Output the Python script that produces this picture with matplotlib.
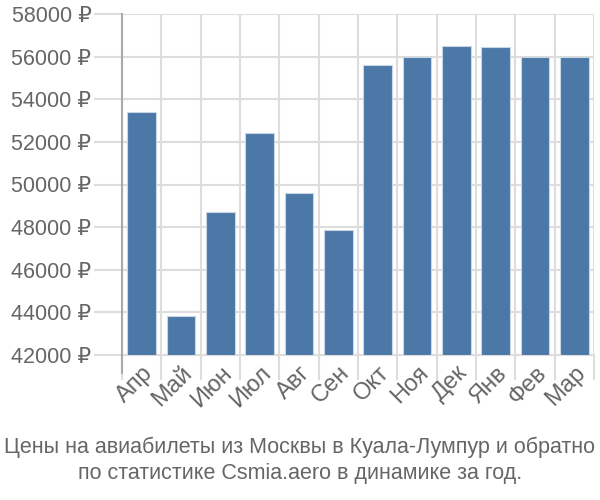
"""Monthly airfare bar chart: Moscow - Kuala Lumpur."""

import matplotlib

matplotlib.use("Agg")
import matplotlib.pyplot as plt
from matplotlib.ticker import FixedLocator

plt.rcParams["font.family"] = ["Liberation Sans", "DejaVu Sans"]

MONTHS = ["Апр", "Май", "Июн", "Июл", "Авг", "Сен", "Окт", "Ноя", "Дек", "Янв", "Фев", "Мар"]
PRICES = [53400, 43850, 48700, 52400, 49600, 47850, 55630, 56000, 56500, 56430, 56000, 56000]
Y_TICKS = list(range(42000, 58001, 2000))
CAPTION = "Цены на авиабилеты из Москвы в Куала-Лумпур и обратно\nпо статистике Csmia.aero в динамике за год."

TEXT_COLOR = "#666666"
GRID_COLOR = "#dddddd"
SPINE_COLOR = "#aaaaaa"


def main() -> None:
    fig = plt.figure(figsize=(6, 5), dpi=100)
    ax = fig.add_axes([122 / 600, 1 - 355 / 500, 472 / 600, 341 / 500])

    x = range(len(MONTHS))
    ax.bar(x, [p - 42000 for p in PRICES], bottom=42000, width=0.73,
           color="#4c78a8", edgecolor="#c8d6e6", linewidth=0.8, zorder=3)

    ax.set_xlim(-0.5, len(MONTHS) - 0.5)
    ax.set_ylim(42000, 58000)

    ax.set_yticks(Y_TICKS)
    ax.set_yticklabels([f"{v} ₽" for v in Y_TICKS])
    ax.set_xticks(list(x))
    ax.set_xticklabels(MONTHS, rotation=45, ha="right", va="top", rotation_mode="anchor")
    ax.xaxis.set_minor_locator(FixedLocator([i - 0.5 for i in range(len(MONTHS) + 1)]))

    ax.tick_params(axis="x", which="major", length=0, pad=5, labelsize=17, labelcolor=TEXT_COLOR)
    ax.tick_params(axis="x", which="minor", length=18, width=1.5, color=GRID_COLOR)
    ax.tick_params(axis="y", length=20, width=1.5, color=GRID_COLOR, pad=2,
                   labelsize=15.5, labelcolor=TEXT_COLOR)
    # the left spine continues through the first category tick
    ax.plot([-0.5, -0.5], [0, -18 / 341], transform=ax.get_xaxis_transform(),
            color=SPINE_COLOR, linewidth=1.5, clip_on=False, zorder=4)

    ax.grid(True, axis="y", color=GRID_COLOR, linewidth=1.5, zorder=0)
    ax.grid(True, axis="x", which="minor", color=GRID_COLOR, linewidth=1.5, zorder=0)

    for side in ("top", "right"):
        ax.spines[side].set_visible(False)
    ax.spines["left"].set_color(SPINE_COLOR)
    ax.spines["left"].set_linewidth(1.5)
    ax.spines["bottom"].set_color(GRID_COLOR)
    ax.spines["bottom"].set_linewidth(1.5)

    fig.text(0.5, 1 - 460 / 500, CAPTION, ha="center", va="center",
             fontsize=15.5, color=TEXT_COLOR, linespacing=1.3)

    fig.savefig("out.png", dpi=100)


if __name__ == "__main__":
    main()
